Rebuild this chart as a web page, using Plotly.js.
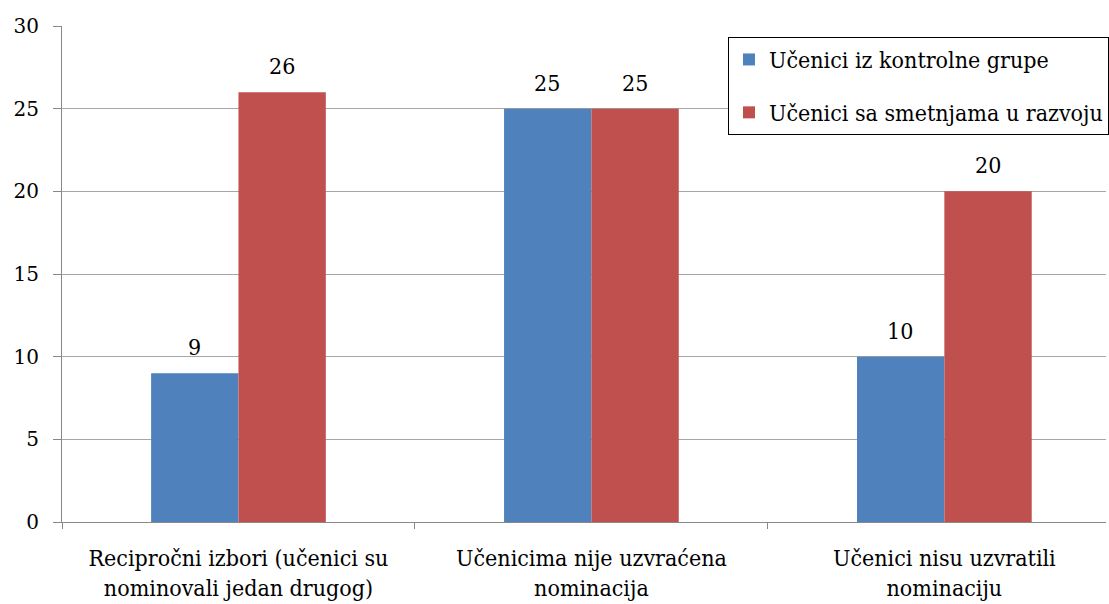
<!DOCTYPE html>
<html>
<head>
<meta charset="utf-8">
<script src="https://cdn.plot.ly/plotly-3.0.1.min.js"></script>
<style>html,body{margin:0;padding:0;background:#fff;}#chart{width:1109px;height:604px;}</style>
</head>
<body>
<div id="chart"></div>
<script>
var categories = ["Recipročni izbori (učenici su<br>nominovali jedan drugog)", "Učenicima nije uzvraćena<br>nominacija", "Učenici nisu uzvratili<br>nominaciju"];
var seriesNames = ["Učenici iz kontrolne grupe", "Učenici sa smetnjama u razvoju"];
var controlValues = [9, 25, 10];
var disabilityValues = [26, 25, 20];
var yTicks = [0, 5, 10, 15, 20, 25, 30];

var serifC = "DejaVu Serif Condensed";
var serif = "DejaVu Serif";

var traces = [
  {type: "bar", name: seriesNames[0], x: categories, y: controlValues, legendgroup: "a",
   marker: {color: "#4F81BD"}, hoverinfo: "none"},
  {type: "bar", name: seriesNames[1], x: categories, y: disabilityValues, legendgroup: "b",
   marker: {color: "#C0504D"}, hoverinfo: "none"}
];

var annotations = [];
[controlValues, disabilityValues].forEach(function (vals, si) {
  vals.forEach(function (v, i) {
    annotations.push({
      x: categories[i], y: v, xref: "x", yref: "y", text: String(v), showarrow: false,
      xanchor: "center", yanchor: "bottom", xshift: si === 0 ? -44 : 44, yshift: 11,
      font: {family: serifC, size: 23, color: "#000"}
    });
  });
});

var layout = {
  width: 1109, height: 604,
  margin: {l: 62, r: 0, t: 26, b: 82, pad: 0},
  paper_bgcolor: "#fff", plot_bgcolor: "#fff",
  barmode: "group", bargap: 0.505, bargroupgap: 0,
  showlegend: true,
  font: {family: serifC, size: 20, color: "#000"},
  annotations: annotations,
  xaxis: {
    type: "category", range: [-0.5, 2.458], fixedrange: true,
    tickson: "boundaries", ticks: "outside", ticklen: 6, tickcolor: "#888",
    showline: true, linecolor: "#888", linewidth: 1, showgrid: false,
    tickfont: {family: serifC, size: 23, color: "#000"}, ticklabelstandoff: 15
  },
  yaxis: {
    range: [0, 30], tickvals: yTicks, ticktext: yTicks.map(String),
    ticks: "outside", ticklen: 8, tickcolor: "#888",
    showline: true, linecolor: "#888", linewidth: 1,
    showgrid: true, gridcolor: "#a6a6a6", gridwidth: 1, zeroline: false,
    tickfont: {family: serif, size: 20, color: "#000"}, ticklabelstandoff: 10
  },
  legend: {
    x: (730 - 62) / 1047, y: 1 - (37 - 26) / 496, xanchor: "left", yanchor: "top",
    bordercolor: "#000", borderwidth: 1, bgcolor: "#fff",
    font: {family: serifC, size: 23, color: "#000"},
    traceorder: "grouped", tracegroupgap: 20, itemsizing: "constant"
  }
};

Plotly.newPlot("chart", traces, layout, {displayModeBar: false, staticPlot: true});
</script>
</body>
</html>
